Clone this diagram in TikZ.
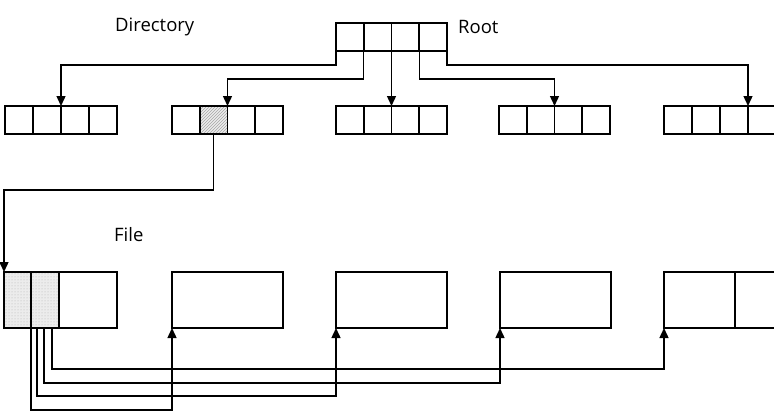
\documentclass[tikz,border=0pt]{standalone}
\usepackage{fontspec}
\setmainfont{Open Sans}
\usetikzlibrary{arrows.meta,calc,patterns,backgrounds}
\newcommand\quadbox[3]{%
  \node[dbox,minimum width=#3] (#1) at (#2) {};
  \foreach \k in {1,2,3} {
    \draw[cell] ($(#1.north west)!\k/4!(#1.north east)$) coordinate (#1-t\k)
      -- ($(#1.south west)!\k/4!(#1.south east)$) coordinate (#1-b\k);
  }}
\begin{document}
\begin{tikzpicture}[x=1pt,y=-1pt,
  dbox/.style={draw,line width=2.8pt,minimum height=28pt,inner sep=0pt,outer sep=0pt,anchor=north west},
  fbox/.style={draw,line width=2.8pt,minimum height=56pt,inner sep=0pt,outer sep=0pt,anchor=north west},
  cell/.style={line width=1.6pt},
  conn/.style={line width=1.4pt},
  arr/.style={conn,-{Triangle[width=9pt,length=10pt]}},
  lbl/.style={font=\fontsize{18.5}{21}\selectfont,anchor=base west,inner sep=0pt}]
\useasboundingbox (0,0) rectangle (774,412);

% labels
\node[lbl] (dirlbl) at (115,32) {Directory};
\node[lbl] (rootlbl) at (458,34) {Root};
\node[lbl] (filelbl) at (114,241) {File};

% directory boxes
\quadbox{root}{336,23}{111pt}
\quadbox{d1}{5,106}{112pt}
\quadbox{d2}{172,106}{111pt}
\quadbox{d3}{336,106}{111pt}
\quadbox{d4}{499,106}{111pt}
\quadbox{d5}{664,106}{112pt}

\begin{scope}[on background layer]
  \fill[gray!15] (d2-t1) rectangle (d2-b2);
  \fill[pattern=north east lines,pattern color=gray!70] (d2-t1) rectangle (d2-b2);
\end{scope}

% file boxes
\node[fbox,minimum width=113pt] (f1) at (4,272) {};
\node[fbox,minimum width=111pt] (f2) at (172,272) {};
\node[fbox,minimum width=111pt] (f3) at (336,272) {};
\node[fbox,minimum width=111pt] (f4) at (500,272) {};
\node[fbox,minimum width=112pt] (f5) at (664,272) {};
\coordinate (f1a) at ($(f1.north west)+(27,0)$);
\coordinate (f1b) at ($(f1.north west)+(55,0)$);
\coordinate (f1c) at ($(f1.south west)+(55,0)$);
\coordinate (f5a) at ($(f5.north west)+(71,0)$);
\begin{scope}[on background layer]
  \fill[gray!15] (f1.north west) rectangle (f1c);
  \fill[pattern=dots,pattern color=gray!60] (f1.north west) rectangle (f1c);
\end{scope}
\draw[cell] (f1a) -- (f1a |- f1.south);
\draw[cell] (f1b) -- (f1c);
\draw[cell] (f5a) -- (f5a |- f5.south);

% root connectors
\draw[arr] (root.south west) -- ++(0,14) -| (d1-t2);
\draw[arr] (root-b1) -- ++(0,28) -| (d2-t2);
\draw[arr] (root-b2) -- (d3-t2);
\draw[arr] (root-b3) -- ++(0,28) -| (d4-t2);
\draw[arr] (root.south east) -- ++(0,14) -| (d5-t3);

% directory entry to file
\coordinate (hs) at ($(d2-b1)!0.5!(d2-b2)$);
\draw[arr] (hs) -- ++(0,56) -| (f1.north west);

% file block pointers
\coordinate (p1) at ($(f1.south west)+(27,0)$);
\coordinate (p2) at ($(f1.south west)+(33,0)$);
\coordinate (p3) at ($(f1.south west)+(40,0)$);
\coordinate (p4) at ($(f1.south west)+(48,0)$);
\draw[arr] (p4) -- ++(0,41) -| (f5.south west);
\draw[arr] (p3) -- ++(0,55) -| (f4.south west);
\draw[arr] (p2) -- ++(0,68) -| (f3.south west);
\draw[arr] (p1) -- ++(0,82) -| (f2.south west);
\end{tikzpicture}
\end{document}
